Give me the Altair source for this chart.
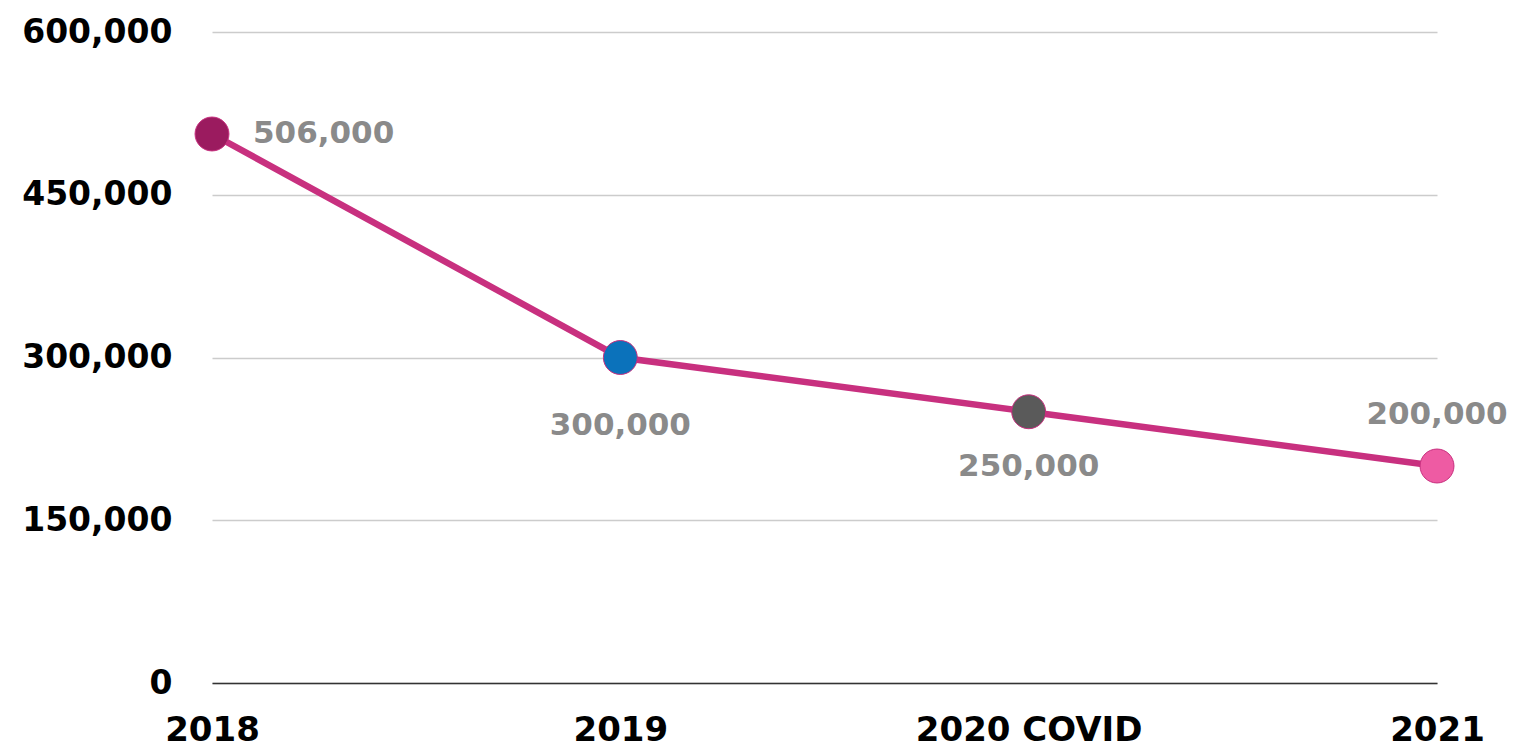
import altair as alt
import pandas as pd

years = ["2018", "2019", "2020 COVID", "2021"]
values = [506000, 300000, 250000, 200000]
labels = ["506,000", "300,000", "250,000", "200,000"]
point_colors = ["#9B1B5F", "#0B72BB", "#5A5A5A", "#EE5BA3"]
y_ticks = [0, 150000, 300000, 450000, 600000]

df = pd.DataFrame({"year": years, "value": values, "label": labels, "pc": point_colors})

FONT = "DejaVu Sans"

x = alt.X("year:N", sort=years, scale=alt.Scale(type="point", padding=0),
          axis=alt.Axis(title=None, labelAngle=0, labelFont=FONT, labelFontWeight="bold",
                        labelFontSize=34, labelColor="#000000", labelPadding=30, labelLimit=500,
                        ticks=False, domain=True, domainColor="#333333", domainWidth=1.5,
                        grid=False, labelBaseline="top"))
y = alt.Y("value:Q", scale=alt.Scale(domain=[0, 600000], nice=False),
          axis=alt.Axis(title=None, values=y_ticks, format=",.0f",
                        labelFont=FONT, labelFontWeight="bold", labelFontSize=33,
                        labelColor="#000000", labelPadding=40, labelLimit=400,
                        ticks=False, domain=False,
                        gridColor="#CCCCCC", gridWidth=1.5))

base = alt.Chart(df)

line = base.mark_line(color="#C8307F", strokeWidth=6.5).encode(x=x, y=y)
pts = base.mark_point(filled=True, size=1150, opacity=1, stroke="#C8307F", strokeWidth=1).encode(
    x=x, y=y, fill=alt.Fill("pc:N", scale=None))

def lab(year, **kw):
    return base.transform_filter(alt.datum.year == year).mark_text(
        font=FONT, fontWeight="bold", fontSize=31, color="#8A8A8A", baseline="middle", **kw
    ).encode(x=x, y=y, text="label:N")

t1 = lab("2018", align="left", dx=41, dy=0)
t2 = lab("2019", align="center", dy=68)
t3 = lab("2020 COVID", align="center", dy=55)
t4 = lab("2021", align="center", dy=-51)

chart = alt.layer(line, pts, t1, t2, t3, t4).properties(
    width=1225, height=651,
    background="#FFFFFF",
    autosize=alt.AutoSizeParams(type="none"),
    padding={"left": 204, "top": 24, "right": 80, "bottom": 68},
).configure_view(strokeWidth=0, stroke="transparent")

chart.save("out.html", embed_options={"renderer": "svg", "actions": False})
